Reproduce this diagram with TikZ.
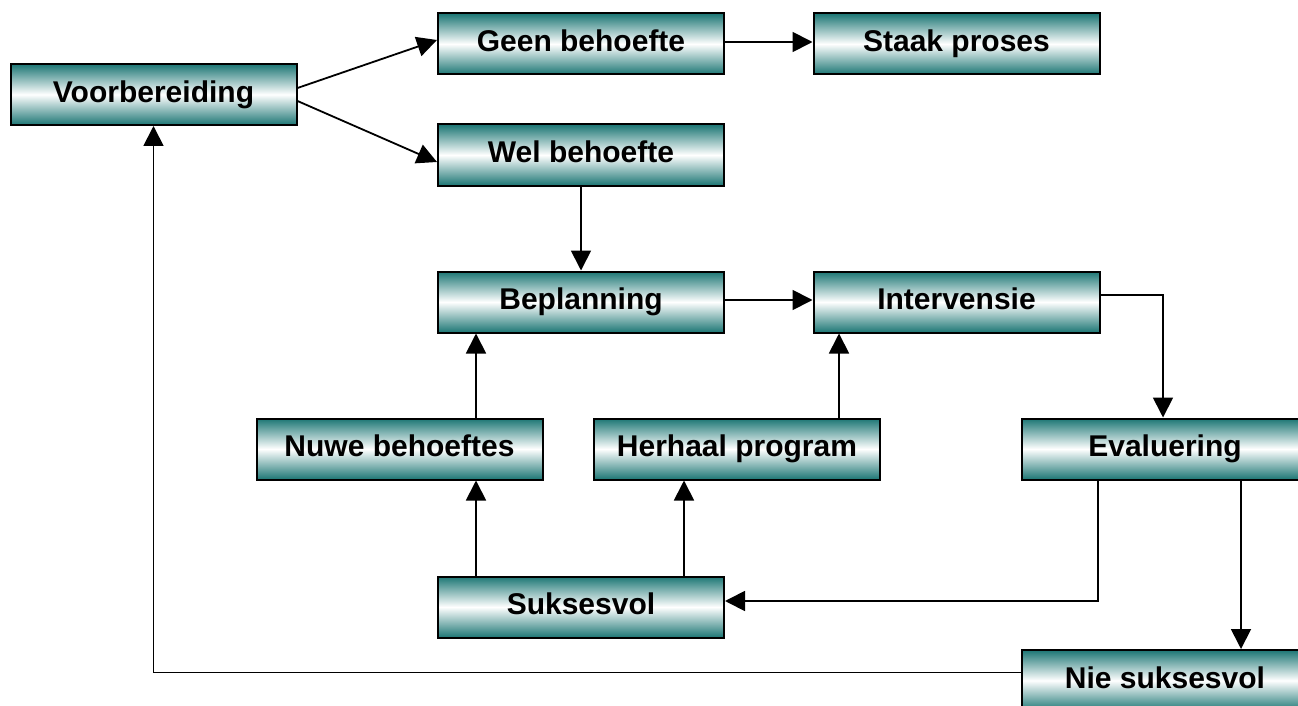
\documentclass[tikz,border=0pt]{standalone}
\usepackage{fontspec}
\setmainfont{Liberation Sans}
\usetikzlibrary{arrows.meta,calc}
\definecolor{tealc}{RGB}{28,118,116}
\begin{document}
\begin{tikzpicture}[x=1pt,y=-1pt,
 box/.style={draw=black,line width=2pt,minimum width=286pt,minimum height=61pt,inner sep=0pt,top color=tealc,bottom color=tealc,middle color=white,font=\fontsize{30}{32}\selectfont\bfseries,text height=21.6pt,text depth=6.3pt},
 arr/.style={line width=1.8pt,-{Triangle[length=20pt,width=20pt]}}]
\useasboundingbox (0,0) rectangle (1298,706);
\node[box] (voor) at (153.5,94.5) {Voorbereiding};
\node[box] (geen) at (581,44) {Geen behoefte};
\node[box] (staak) at (956.5,44) {Staak proses};
\node[box] (wel) at (581,155) {Wel behoefte};
\node[box] (bepl) at (581,302) {Beplanning};
\node[box] (inter) at (956.5,302) {Intervensie};
\node[box] (nuwe) at (399.5,449) {Nuwe behoeftes};
\node[box] (herh) at (737,449) {Herhaal program};
\node[box] (eval) at (1165,449) {Evaluering};
\node[box] (suks) at (581,607) {Suksesvol};
\node[box] (nie) at (1165,680.5) {Nie suksesvol};

\draw[arr] ($(voor.east)+(0,-6.5)$) -- ($(geen.west)+(0,-4)$);
\draw[arr] ($(voor.east)+(0,6.5)$) -- ($(wel.west)+(0,7)$);
\draw[arr] ($(geen.east)+(0,-2)$) -- ($(staak.west)+(0,-2)$);
\draw[arr] (wel.south) -- (bepl.north);
\draw[arr] ($(bepl.east)+(0,-2)$) -- ($(inter.west)+(0,-2)$);
\draw[arr] ($(inter.east)+(0,-7)$) -| ($(eval.north west)+(142,0)$);
\draw[arr] ($(nuwe.north west)+(220.5,0)$) -- ($(bepl.south west)+(39,0)$);
\draw[arr] ($(herh.north west)+(246,0)$) -- ($(inter.south west)+(26.5,0)$);
\draw[arr] ($(suks.north west)+(39,0)$) -- ($(nuwe.south west)+(220.5,0)$);
\draw[arr] ($(suks.north west)+(247,0)$) -- ($(herh.south west)+(91,0)$);
\draw[arr] ($(eval.south west)+(77,0)$) |- ($(suks.east)+(0,-6)$);
\draw[arr] ($(eval.south west)+(220,0)$) -- ($(nie.north west)+(220,0)$);
\draw[arr] ($(nie.west)+(0,-8)$) -| (voor.south);
\end{tikzpicture}
\end{document}
